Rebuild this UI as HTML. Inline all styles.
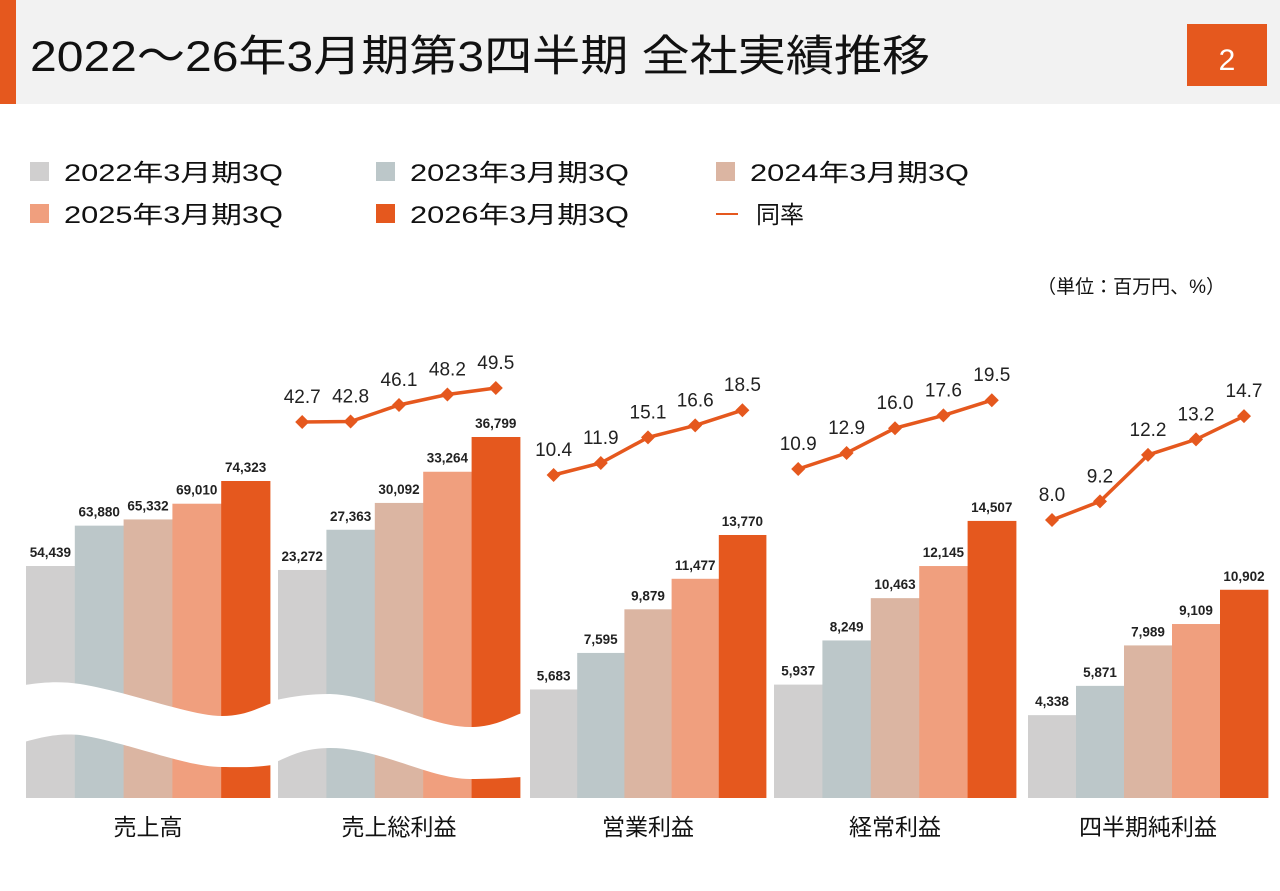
<!DOCTYPE html>
<html><head><meta charset="utf-8">
<style>
body{margin:0;width:1280px;height:886px;background:#fff;overflow:hidden;font-family:"Liberation Sans","Noto Sans CJK JP",sans-serif;}
</style></head>
<body>
<svg width="1280" height="886" xmlns="http://www.w3.org/2000/svg" font-family="Liberation Sans, Noto Sans CJK JP, sans-serif" id="chart">
<rect x="0" y="0" width="1280" height="104" fill="#f2f2f2"/>
<rect x="0" y="0" width="16" height="104" fill="#e5581e"/>
<text x="30" y="71" font-size="43" fill="#111" textLength="900" lengthAdjust="spacingAndGlyphs">2022～26年3月期第3四半期 全社実績推移</text>
<rect x="1187" y="24" width="80" height="62" fill="#e5581e"/>
<text x="1227" y="70" font-size="30" fill="#fff" text-anchor="middle">2</text>
<text x="1225" y="293" font-size="19" fill="#111" text-anchor="end">（単位：百万円、%）</text>
<g id="legend"></g>
<g id="bars"></g>
<g id="lines"></g>
</svg>
<script>
const series = ["2022年3月期3Q","2023年3月期3Q","2024年3月期3Q","2025年3月期3Q","2026年3月期3Q"];
const colors = ["#d0cfcf","#bcc7c9","#dbb5a2","#f09f7e","#e5581e"];
const categories = ["売上高","売上総利益","営業利益","経常利益","四半期純利益"];
const v2022 = [54439,23272,5683,5937,4338];
const v2023 = [63880,27363,7595,8249,5871];
const v2024 = [65332,30092,9879,10463,7989];
const v2025 = [69010,33264,11477,12145,9109];
const v2026 = [74323,36799,13770,14507,10902];
const rate2022 = [null,42.7,10.4,10.9,8.0];
const rate2023 = [null,42.8,11.9,12.9,9.2];
const rate2024 = [null,46.1,15.1,16.0,12.2];
const rate2025 = [null,48.2,16.6,17.6,13.2];
const rate2026 = [null,49.5,18.5,19.5,14.7];
const values=[v2022,v2023,v2024,v2025,v2026];
const rates=[rate2022,rate2023,rate2024,rate2025,rate2026];
const NS="http://www.w3.org/2000/svg";
const groupX=[26,278,530,774,1028], barW=[48.8,48.4,47.2,48.4,48];
const baseY=798;
function yBar(g,v){
  if(g===0) return 481+(74323-v)*0.004275;
  if(g===1) return 437+(36799-v)*0.00983;
  return baseY - v*0.0191;
}
function yRate(g,r){
  if(g===1) return 422-(r-42.7)*5;
  if(g===2) return 475-(r-10.4)*8.0;
  if(g===3) return 469-(r-10.9)*8.0;
  return 520-(r-8.0)*15.5;
}
function el(tag,attrs,parent,txt){const e=document.createElementNS(NS,tag);for(const k in attrs)e.setAttribute(k,attrs[k]);if(txt!==undefined)e.textContent=txt;parent.appendChild(e);return e;}
const leg=document.getElementById('legend');
const lx=[30,376,716], ly=[172,214];
series.forEach((s,i)=>{
  const x=lx[i%3], y=ly[Math.floor(i/3)];
  const r=el('rect',{x:x,y:y-10,width:19,height:19,fill:colors[i]},leg);
  
  
  const t=el('text',{x:x+34,y:y+9,'font-size':24,fill:'#111',textLength:219,lengthAdjust:'spacingAndGlyphs'},leg,s);
  
  
});
const ll=el('line',{x1:716,x2:738,y1:214,y2:214,stroke:'#e5581e','stroke-width':2},leg);


const lt=el('text',{x:756,y:223,'font-size':24,fill:'#111'},leg,'同率');


const bars=document.getElementById('bars');
categories.forEach((c,g)=>{
  for(let i=0;i<5;i++){
    const v=values[i][g], x=groupX[g]+i*barW[g], y=yBar(g,v);
    const b=el('rect',{x:x,y:y,width:barW[g]+0.4,height:baseY-y,fill:colors[i]},bars);
    
    
    const t=el('text',{x:x+barW[g]/2,y:y-9,'font-size':13.5,'font-weight':'bold',fill:'#222','text-anchor':'middle'},bars,v.toLocaleString('en-US'));
    
    
  }
  const ct=el('text',{x:groupX[g]+barW[g]*2.5,y:835,'font-size':23,fill:'#111','text-anchor':'middle'},bars,c);
  
  
});
const w1=el('path',{d:'M24 685 C45 682 60 681 80 684 C130 692 190 716 222 716 C245 716 258 708 272 703 L272 765 C250 768 235 767 222 767 C185 767 130 743 80 735 C55 733 40 738 24 742 Z',fill:'#fff'},bars);


const w2=el('path',{d:'M276 700 C295 696 310 694 330 694 C380 696 430 727 470 727 C495 727 508 718 522 713 L522 777 C505 778 490 779 470 779 C430 779 380 748 330 748 C305 748 292 755 276 762 Z',fill:'#fff'},bars);


const lines=document.getElementById('lines');
for(let g=1;g<5;g++){
  const pts=[];
  for(let i=0;i<5;i++){const r=rates[i][g];pts.push([groupX[g]+(i+0.5)*barW[g],yRate(g,r),r]);}
  const p=el('polyline',{points:pts.map(p=>p[0]+','+p[1]).join(' '),fill:'none',stroke:'#e5581e','stroke-width':3.5},lines);
  
  
  pts.forEach((q,i)=>{
    const d=el('path',{d:`M${q[0]} ${q[1]-7}L${q[0]+7} ${q[1]}L${q[0]} ${q[1]+7}L${q[0]-7} ${q[1]}Z`,fill:'#e5581e'},lines);
    
    
    const t=el('text',{x:q[0],y:q[1]-19,'font-size':19,fill:'#222','text-anchor':'middle'},lines,q[2].toFixed(1));
    
    
  });
}
</script>
</body></html>
